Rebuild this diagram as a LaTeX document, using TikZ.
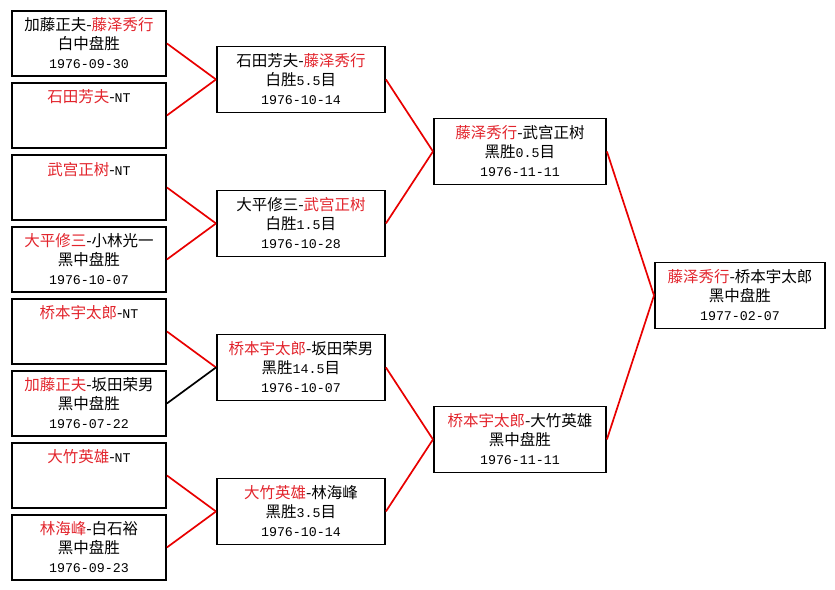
\documentclass[tikz,border=0pt]{standalone}
\usepackage{fontspec}
\setmainfont{Noto Sans CJK SC}
\newfontfamily\datefont{Liberation Mono}
\usetikzlibrary{positioning}
\definecolor{winred}{RGB}{226,36,44}
\definecolor{linkred}{RGB}{232,0,0}
\newcommand{\wn}[1]{\textcolor{winred}{#1}}
\newcommand{\dg}[1]{{\datefont\fontsize{13.3}{19}\selectfont #1}}

\begin{document}
\begin{tikzpicture}[x=1pt, y=-1pt, font=\fontsize{15.5}{19}\selectfont,
    game/.style={draw, line width=1.9pt, align=center, anchor=north west, inner sep=0pt, minimum height=66pt},
    rnd1/.style={game, minimum width=154pt, minimum height=65pt},
    rnd2/.style={game, minimum width=168pt},
    rnd3/.style={game, minimum width=172pt},
    final/.style={game, minimum width=170pt},
    link/.style={linkred, line width=1.7pt},
    lost/.style={black, line width=1.7pt}]
    \useasboundingbox (0,0) rectangle (835,589);
    % first round
    \node[rnd1] (p1) at (11,10)  {加藤正夫-\wn{藤泽秀行}\\白中盘胜\\\dg{1976-09-30}};
    \node[rnd1] (p2) at (11,82)  {\wn{石田芳夫}-\dg{NT}\\~\\~};
    \node[rnd1] (p3) at (11,154) {\wn{武宫正树}-\dg{NT}\\~\\~};
    \node[rnd1] (p4) at (11,226) {\wn{大平修三}-小林光一\\黑中盘胜\\\dg{1976-10-07}};
    \node[rnd1] (p5) at (11,298) {\wn{桥本宇太郎}-\dg{NT}\\~\\~};
    \node[rnd1] (p6) at (11,370) {\wn{加藤正夫}-坂田荣男\\黑中盘胜\\\dg{1976-07-22}};
    \node[rnd1] (p7) at (11,442) {\wn{大竹英雄}-\dg{NT}\\~\\~};
    \node[rnd1] (p8) at (11,514) {\wn{林海峰}-白石裕\\黑中盘胜\\\dg{1976-09-23}};
    % second round
    \node[rnd2] (q1) at (216,45.5)  {石田芳夫-\wn{藤泽秀行}\\白胜\dg{5.5}目\\\dg{1976-10-14}};
    \node[rnd2] (q2) at (216,189.5) {大平修三-\wn{武宫正树}\\白胜\dg{1.5}目\\\dg{1976-10-28}};
    \node[rnd2] (q3) at (216,333.5) {\wn{桥本宇太郎}-坂田荣男\\黑胜\dg{14.5}目\\\dg{1976-10-07}};
    \node[rnd2] (q4) at (216,477.5) {\wn{大竹英雄}-林海峰\\黑胜\dg{3.5}目\\\dg{1976-10-14}};
    % semi-finals
    \node[rnd3] (s1) at (433,117.5) {\wn{藤泽秀行}-武宫正树\\黑胜\dg{0.5}目\\\dg{1976-11-11}};
    \node[rnd3] (s2) at (433,405.5) {\wn{桥本宇太郎}-大竹英雄\\黑中盘胜\\\dg{1976-11-11}};
    % final
    \node[final] (champ) at (654,261.5) {\wn{藤泽秀行}-桥本宇太郎\\黑中盘胜\\\dg{1977-02-07}};

    \draw[link] (p1.east) -- (q1.west);
    \draw[link] (p2.east) -- (q1.west);
    \draw[link] (p3.east) -- (q2.west);
    \draw[link] (p4.east) -- (q2.west);
    \draw[link] (p5.east) -- (q3.west);
    \draw[lost] (p6.east) -- (q3.west);
    \draw[link] (p7.east) -- (q4.west);
    \draw[link] (p8.east) -- (q4.west);
    \draw[link] (q1.east) -- (s1.west);
    \draw[link] (q2.east) -- (s1.west);
    \draw[link] (q3.east) -- (s2.west);
    \draw[link] (q4.east) -- (s2.west);
    \draw[link] (s1.east) -- (champ.west);
    \draw[link] (s2.east) -- (champ.west);
\end{tikzpicture}
\end{document}
